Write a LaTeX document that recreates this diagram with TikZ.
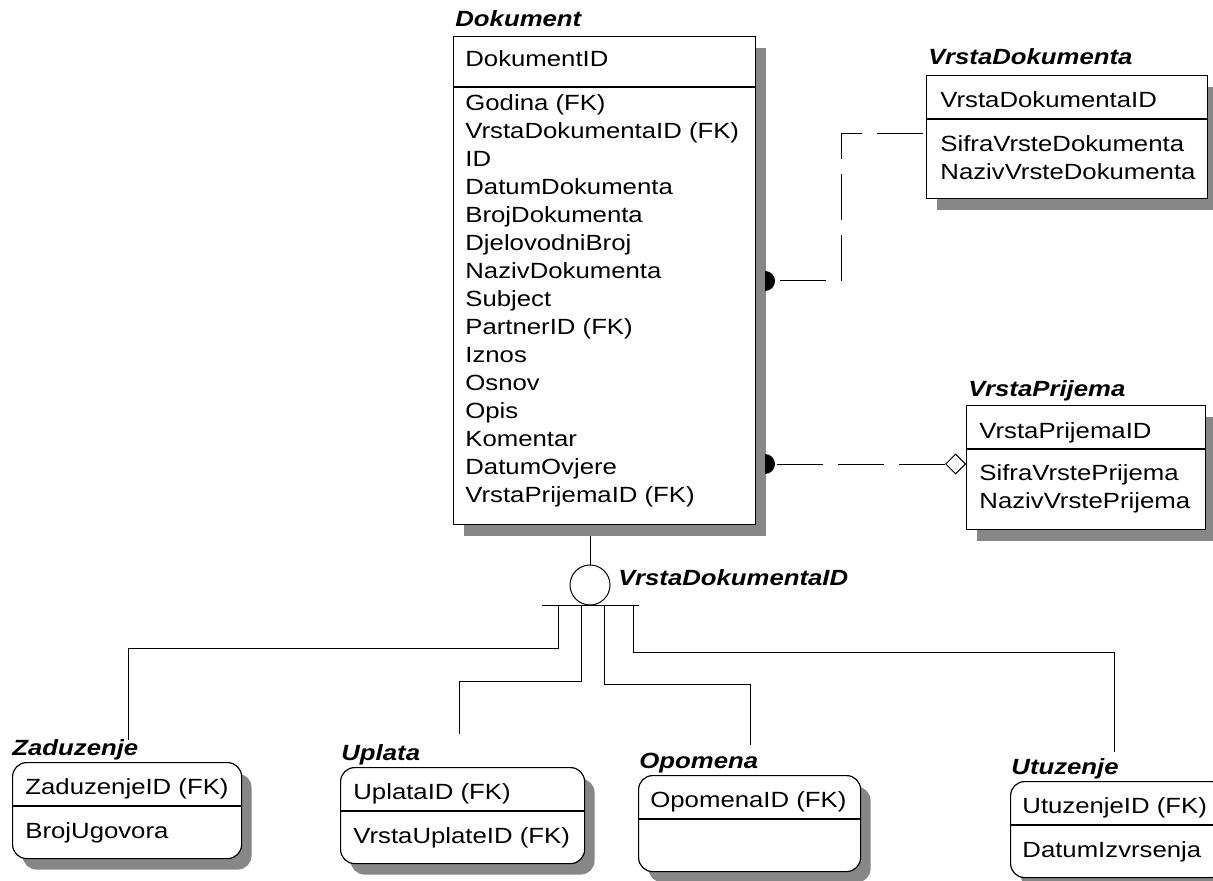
\documentclass[tikz,border=0pt]{standalone}
\usepackage{fontspec}
\setmainfont{Liberation Sans}[FakeStretch=1.17]
\usetikzlibrary{shadows,backgrounds,shapes.geometric}

\newcommand{\erfont}{\fontsize{11}{14}\selectfont}

\tikzset{
  entity/.style={draw, fill=white, line width=0.6pt, anchor=north west, inner sep=0pt,
    drop shadow={shadow xshift=5pt, shadow yshift=-5.5pt, fill=black!47, opacity=1}},
  subentity/.style={entity, rounded corners=7pt},
  etitle/.style={anchor=base west, inner sep=0pt, font=\erfont\bfseries\itshape},
  attr/.style={anchor=base west, inner sep=0pt, font=\erfont},
  rel/.style={line width=0.5pt, dash pattern=on 23pt off 7.5pt},
  leg/.style={line width=0.5pt},
}

\begin{document}
\begin{tikzpicture}[x=0.5pt, y=-0.5pt]
    \useasboundingbox (0,0) rectangle (1213,881);

    % Dokument
    \node[etitle] (dokT) at (455,27) {Dokument};
    \node[entity, minimum width=151pt, minimum height=244pt] (dok) at (453,36) {};
    \node[attr] (dokK) at (465,67) {DokumentID};
    \draw[line width=0.6pt] (453,87) -- (755,87);
    \foreach \a [count=\i from 0] in {Godina (FK), VrstaDokumentaID (FK), ID,
        DatumDokumenta, BrojDokumenta, DjelovodniBroj, NazivDokumenta, Subject,
        PartnerID (FK), Iznos, Osnov, Opis, Komentar, DatumOvjere, VrstaPrijemaID (FK)}
        \node[attr] (dokA\i) at (465,110.5+28*\i) {\a};

    % VrstaDokumenta
    \node[etitle] (vdT) at (928,65) {VrstaDokumenta};
    \node[entity, minimum width=140.5pt, minimum height=61.5pt] (vd) at (926,75) {};
    \node[attr] (vdK) at (940,108) {VrstaDokumentaID};
    \draw[line width=0.6pt] (926,119) -- (1207,119);
    \node[attr] (vdA1) at (940,152) {SifraVrsteDokumenta};
    \node[attr] (vdA2) at (940,180) {NazivVrsteDokumenta};

    % VrstaPrijema
    \node[etitle] (vpT) at (968,396) {VrstaPrijema};
    \node[entity, minimum width=119.5pt, minimum height=62pt] (vp) at (966,405) {};
    \node[attr] (vpK) at (979,438) {VrstaPrijemaID};
    \draw[line width=0.6pt] (966,449) -- (1205,449);
    \node[attr] (vpA1) at (979,480) {SifraVrstePrijema};
    \node[attr] (vpA2) at (979,508) {NazivVrstePrijema};

    % relationships to Dokument
    \coordinate (dokR1) at (780,281);
    \coordinate (dokR2) at (777,464);
    \fill (765,271) arc[start angle=90, end angle=-90, radius=5pt] -- cycle;
    \fill (765,454) arc[start angle=90, end angle=-90, radius=5pt] -- cycle;
    \draw[rel] (dokR1) -| (841,134) -- (vd.west |- 0,134);
    \node[diamond, draw, fill=white, line width=0.5pt, inner sep=0pt, aspect=1,
        minimum width=10pt, minimum height=10pt, anchor=east] (vpD) at (vp.west |- 0,464) {};
    \draw[rel] (dokR2) -- (vpD.west);

    % category
    \node[circle, draw, line width=0.5pt, inner sep=0pt, minimum size=20pt] (cat) at (590,585) {};
    \node[etitle] (catT) at (618,585) {VrstaDokumentaID};
    \begin{scope}[on background layer]
        \draw[leg] (cat.north |- dok.south) -- (cat.north);
    \end{scope}
    \draw[leg] (542,605) -- (639,605);

    % Zaduzenje
    \node[etitle] (zadT) at (12,755) {Zaduzenje};
    \node[subentity, minimum width=114.5pt, minimum height=48pt] (zad) at (12,762) {};
    \node[attr] (zadK) at (25,794) {ZaduzenjeID (FK)};
    \draw[line width=0.6pt] (12,806) -- (241,806);
    \node[attr] (zadA) at (25,838) {BrojUgovora};

    % Uplata
    \node[etitle] (uplT) at (341,760) {Uplata};
    \node[subentity, minimum width=122pt, minimum height=48pt] (upl) at (340,767) {};
    \node[attr] (uplK) at (353,799) {UplataID (FK)};
    \draw[line width=0.6pt] (340,811) -- (584,811);
    \node[attr] (uplA) at (353,843) {VrstaUplateID (FK)};

    % Opomena
    \node[etitle] (opoT) at (639,768) {Opomena};
    \node[subentity, minimum width=111pt, minimum height=48pt] (opo) at (638,775) {};
    \node[attr] (opoK) at (650,807) {OpomenaID (FK)};
    \draw[line width=0.6pt] (638,819) -- (860,819);

    % Utuzenje
    \node[etitle] (utuT) at (1011,774) {Utuzenje};
    \node[subentity, minimum width=107.5pt, minimum height=48pt] (utu) at (1010,781) {};
    \node[attr] (utuK) at (1022,813) {UtuzenjeID (FK)};
    \draw[line width=0.6pt] (1010,825) -- (1225,825);
    \node[attr] (utuA) at (1022,857) {DatumIzvrsenja};

    % legs of the category
    \coordinate (zadE) at (128,740);
    \coordinate (uplE) at (459,734);
    \coordinate (opoE) at (750,745);
    \coordinate (utuE) at (1114,752);
    \draw[leg] (558,605) |- (128,648) -- (zadE);
    \draw[leg] (581,605) |- (459,681) -- (uplE);
    \draw[leg] (604,605) |- (750,684) -- (opoE);
    \draw[leg] (633,605) |- (1114,652) -- (utuE);

\end{tikzpicture}
\end{document}
